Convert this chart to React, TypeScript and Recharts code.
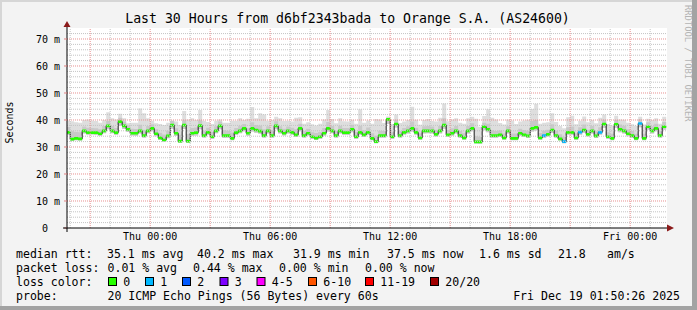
import { useMemo } from "react";
import {
  ComposedChart,
  Area,
  XAxis,
  YAxis,
  CartesianGrid,
  ReferenceLine,
  ReferenceDot,
} from "recharts";

const MONO = '"DejaVu Sans Mono", monospace';

// time axis in hours relative to Thu 00:00
const RANGE_START = -4.159; // Wed 19:50:26
const RANGE_END = 25.841; // Fri 01:50:26
const FIRST_STEP = -4.2; // first 12 min consolidation step (Wed 19:48)
const STEP = 0.2;
const Y_MAX = 74.07;

const timeTicks = [0, 6, 12, 18, 24];
const timeLabels = ["Thu 00:00", "Thu 06:00", "Thu 12:00", "Thu 18:00", "Fri 00:00"];
const valueTicks = [0, 10, 20, 30, 40, 50, 60, 70];

// median rtt per 12 min step (ms)
const median = [
  35.4, 32.9, 33.2, 33.0, 36.0, 35.3, 35.3, 35.3, 34.9, 36.0,
  37.8, 36.0, 35.3, 39.4, 37.8, 36.5, 35.1, 35.1, 36.0, 34.2,
  36.0, 36.9, 34.9, 33.4, 32.6, 34.1, 38.1, 35.1, 32.2, 38.1,
  32.2, 35.1, 35.3, 37.9, 34.2, 35.4, 33.8, 36.0, 37.8, 34.2,
  34.2, 33.2, 35.3, 36.0, 36.9, 35.1, 36.9, 36.3, 35.9, 34.2,
  36.0, 34.2, 37.8, 36.0, 35.1, 36.0, 35.4, 34.5, 36.9, 34.2,
  35.1, 33.8, 33.3, 33.8, 35.1, 36.9, 36.0, 34.2, 36.0, 35.3,
  35.3, 36.5, 33.8, 35.4, 34.5, 35.4, 33.2, 32.0, 34.2, 34.2,
  40.2, 33.8, 38.5, 34.2, 35.4, 36.0, 36.9, 35.4, 33.4, 36.0,
  36.0, 36.0, 34.7, 36.0, 38.1, 34.5, 35.1, 36.0, 34.2, 33.4,
  36.0, 36.9, 31.9, 31.9, 37.5, 36.5, 34.2, 34.2, 34.5, 33.4,
  36.0, 33.2, 33.2, 35.1, 34.5, 34.1, 36.9, 37.3, 33.4, 34.2,
  34.7, 36.3, 34.2, 33.0, 32.0, 35.4, 35.4, 33.4, 35.5, 36.3,
  34.7, 36.0, 34.1, 35.4, 38.5, 33.8, 33.2, 38.4, 36.5, 36.0,
  34.9, 34.2, 33.2, 38.7, 33.2, 37.5, 36.0, 36.9, 34.2, 37.5,
];

// smoke: lowest ping, upper dense ping, highest ping per step
const pingLow = [
  34.5, 32.3, 32.5, 32.4, 35.0, 34.5, 34.6, 34.4, 34.1, 35.1,
  36.6, 35.1, 34.4, 37.9, 36.7, 35.6, 34.3, 34.2, 35.0, 33.4,
  35.1, 35.8, 34.0, 32.6, 31.9, 33.2, 36.8, 34.1, 31.5, 36.7,
  31.5, 34.2, 34.3, 36.6, 33.4, 34.5, 33.0, 35.1, 36.6, 33.3,
  33.4, 32.5, 34.4, 35.1, 35.8, 34.2, 35.7, 35.3, 34.9, 33.4,
  35.0, 33.4, 36.6, 35.0, 34.3, 35.0, 34.5, 33.7, 35.8, 33.4,
  34.3, 33.0, 32.6, 33.0, 34.2, 35.7, 35.1, 33.4, 35.0, 34.4,
  34.4, 35.5, 33.0, 34.5, 33.7, 34.5, 32.5, 31.4, 33.4, 33.4,
  38.5, 33.0, 37.2, 33.4, 34.5, 35.0, 35.7, 34.5, 32.7, 35.0,
  35.1, 35.0, 33.9, 35.0, 36.8, 33.7, 34.2, 35.0, 33.4, 32.7,
  35.0, 35.8, 31.3, 31.2, 36.2, 35.5, 33.4, 33.4, 33.7, 32.7,
  35.0, 32.5, 32.5, 34.2, 33.7, 33.3, 35.7, 36.1, 32.7, 33.3,
  33.9, 35.2, 33.4, 32.4, 31.4, 34.5, 34.5, 32.7, 34.5, 35.3,
  33.9, 35.0, 33.3, 34.5, 37.1, 33.0, 32.5, 37.1, 35.5, 35.0,
  34.0, 33.4, 32.5, 37.3, 32.5, 36.4, 35.0, 35.8, 33.4, 36.4,
];

const pingMid = [
  37.4, 35.8, 35.6, 35.5, 37.6, 37.1, 37.0, 36.9, 36.6, 37.8,
  39.6, 37.8, 37.0, 40.8, 39.4, 38.0, 36.8, 36.7, 38.2, 36.4,
  37.8, 38.4, 36.6, 35.3, 34.6, 36.0, 39.7, 36.9, 34.5, 39.9,
  34.8, 37.0, 37.2, 39.9, 36.0, 37.1, 35.6, 37.7, 39.4, 36.2,
  36.0, 35.4, 37.0, 37.9, 38.5, 36.9, 39.2, 38.1, 38.0, 36.6,
  37.7, 36.2, 39.5, 37.7, 36.8, 37.6, 37.1, 36.6, 38.6, 35.9,
  36.8, 35.5, 35.2, 35.6, 37.0, 39.3, 37.8, 35.9, 37.9, 37.0,
  37.0, 38.2, 35.6, 37.9, 36.2, 37.2, 35.1, 34.2, 36.0, 35.9,
  40.8, 35.5, 40.1, 35.9, 37.0, 37.7, 39.4, 37.1, 35.1, 37.7,
  37.8, 37.6, 36.4, 37.8, 40.6, 36.3, 36.9, 37.8, 35.9, 35.1,
  37.8, 38.8, 34.0, 33.8, 39.0, 38.6, 36.2, 35.9, 36.1, 35.0,
  37.7, 35.0, 35.0, 36.8, 36.3, 36.0, 39.6, 40.0, 35.2, 36.0,
  36.4, 38.4, 36.0, 34.7, 33.8, 37.3, 37.6, 35.1, 37.3, 38.3,
  36.4, 37.8, 35.8, 37.3, 40.1, 35.5, 34.9, 40.0, 38.3, 37.9,
  36.6, 35.9, 34.9, 40.3, 34.9, 39.2, 37.7, 38.6, 35.9, 39.3,
];

const pingHigh = [
  39.8, 39.5, 39.2, 39.0, 40.0, 40.2, 39.8, 39.6, 39.0, 40.0,
  42.9, 40.6, 40.2, 42.3, 40.6, 38.8, 39.0, 39.0, 44.3, 42.5,
  40.6, 39.7, 38.8, 38.5, 38.1, 39.0, 39.7, 39.4, 38.1, 43.3,
  40.2, 40.6, 40.0, 43.7, 39.7, 39.3, 38.5, 39.7, 40.2, 39.0,
  39.0, 39.7, 39.7, 40.6, 40.0, 40.5, 44.8, 40.6, 42.5, 42.0,
  39.7, 40.0, 41.2, 40.6, 39.6, 39.7, 39.4, 40.8, 41.0, 38.6,
  39.2, 38.4, 38.0, 38.6, 40.2, 43.7, 40.4, 38.8, 40.6, 39.5,
  39.4, 40.1, 38.6, 44.0, 39.0, 39.8, 38.6, 40.4, 40.2, 38.9,
  41.3, 38.5, 42.0, 38.9, 39.4, 40.0, 44.9, 40.1, 38.2, 40.0,
  40.4, 39.6, 39.4, 40.8, 46.1, 39.5, 40.2, 40.6, 39.0, 38.6,
  40.6, 41.2, 40.5, 37.5, 41.5, 44.0, 40.8, 40.2, 38.9, 38.3,
  40.2, 39.8, 38.5, 39.4, 39.8, 40.1, 44.1, 46.0, 38.6, 39.0,
  39.2, 42.5, 39.3, 37.8, 36.9, 41.0, 41.6, 38.4, 39.7, 41.3,
  39.2, 40.0, 38.8, 40.8, 42.0, 38.5, 38.0, 41.6, 40.2, 40.1,
  39.0, 38.4, 37.9, 41.2, 38.3, 40.5, 40.0, 40.6, 38.6, 41.2,
];

// steps that lost 1 of 20 pings
const lossSteps = [119, 124, 128, 133, 143];

const lossLabels = ["0", "1", "2", "3", "4-5", "6-10", "11-19", "20/20"];
const lossColors = ["#26ff00", "#00b8ff", "#0059ff", "#7e00ff", "#ff00ff", "#ff5500", "#ff0000", "#a10000"];

const rttStats = ["35.1 ms avg", "40.2 ms max", "31.9 ms min", "37.5 ms now", "1.6 ms sd", "21.8", "am/s"];
const lossStats = ["0.01 % avg", "0.44 % max", "0.00 % min", "0.00 % now"];
const probeText = "20 ICMP Echo Pings (56 Bytes) every 60s";
const stampText = "Fri Dec 19 01:50:26 2025";

// legend layout (px)
const rttX = [107, 197, 293, 387, 479, 558, 607];
const lossX = [107.5, 193, 279, 365];
const boxX = [108, 145, 182, 219.5, 256.5, 308, 365, 430];

const majorHours = Array.from({ length: 10 }, (_, i) => -3 + i * 3);
const minorHours = Array.from({ length: 30 }, (_, i) => -4 + i).filter((h) => h % 3 !== 0);
const minorValues = Array.from({ length: 36 }, (_, i) => 2 + i * 2).filter((v) => v % 10 !== 0);

const BAND = 0.5; // half thickness of loss colour bar (m)

function YTick(props: any) {
  const { x, y, payload } = props;
  const v = payload.value;
  return (
    <text x={v === 0 ? x - 12 : x} y={y} dy="0.36em" textAnchor="end" fontSize={10} fontFamily={MONO} fill="#000">
      {v === 0 ? "0" : `${v} m`}
    </text>
  );
}

const arrowRight = (p: any) => (
  <g>
    <line x1={p.cx} y1={p.cy} x2={p.cx + 2} y2={p.cy} stroke="#000" />
    <polygon points={`${p.cx + 7},${p.cy} ${p.cx},${p.cy - 3.5} ${p.cx},${p.cy + 3.5}`} fill="#8b1a1a" />
  </g>
);

const arrowUp = (p: any) => (
  <g>
    <line x1={p.cx} y1={p.cy} x2={p.cx} y2={p.cy - 1} stroke="#000" />
    <polygon points={`${p.cx},${p.cy - 7} ${p.cx - 3.5},${p.cy - 1} ${p.cx + 3.5},${p.cy - 1}`} fill="#8b1a1a" />
  </g>
);

const axisCorner = (p: any) => (
  <g>
    <line x1={p.cx - 4} y1={p.cy} x2={p.cx} y2={p.cy} stroke="#000" />
    <line x1={p.cx} y1={p.cy} x2={p.cx} y2={p.cy + 4} stroke="#000" />
  </g>
);

export default function App() {
  const rows = useMemo(() => {
    const out: any[] = [];
    median.forEach((m, k) => {
      const t0 = FIRST_STEP + k * STEP;
      const lost = lossSteps.includes(k);
      for (const t of [t0, t0 + STEP]) {
        out.push({
          t,
          median: m,
          smokeLight: [pingLow[k], pingHigh[k]],
          smokeDark: [pingLow[k], pingMid[k]],
          loss0: lost ? null : [m - BAND, m + BAND],
          loss1: lost ? [m - BAND, m + BAND] : null,
        });
      }
    });
    return out;
  }, []);

  return (
    <div
      style={{
        position: "absolute",
        left: 0,
        top: 0,
        width: 697,
        height: 310,
        background: "#f3f3f3",
        overflow: "hidden",
      }}
    >
      <ComposedChart width={697} height={310} data={rows} margin={{ top: 28, right: 30, bottom: 52, left: 7 }}>
        <CartesianGrid fill="#ffffff" horizontal={false} vertical={false} />
        <XAxis
          type="number"
          dataKey="t"
          domain={[RANGE_START, RANGE_END]}
          allowDataOverflow
          ticks={timeTicks}
          interval={0}
          tickFormatter={(v) => timeLabels[timeTicks.indexOf(v)]}
          tickLine={false}
          tickSize={5}
          tickMargin={0}
          axisLine={{ stroke: "#000" }}
          tick={{ fontSize: 10, fill: "#000", fontFamily: MONO }}
          height={30}
        />
        <YAxis
          type="number"
          domain={[0, Y_MAX]}
          allowDataOverflow
          ticks={valueTicks}
          interval={0}
          tick={<YTick />}
          width={60}
          tickSize={3}
          tickMargin={4}
          tickLine={{ stroke: "#e08080" }}
          axisLine={{ stroke: "#000" }}
        />
        <Area
          type="linear"
          dataKey="smokeLight"
          stroke="none"
          fill="#dedede"
          fillOpacity={1}
          isAnimationActive={false}
          dot={false}
          activeDot={false}
        />
        <Area
          type="linear"
          dataKey="smokeDark"
          stroke="none"
          fill="#c9c9c9"
          fillOpacity={1}
          isAnimationActive={false}
          dot={false}
          activeDot={false}
        />
        {minorValues.map((v) => (
          <ReferenceLine key={`mv${v}`} y={v} stroke="#c4c4c4" strokeDasharray="1 1" />
        ))}
        {minorHours.map((h) => (
          <ReferenceLine key={`mh${h}`} x={h} stroke="#c4c4c4" strokeDasharray="1 1" />
        ))}
        {valueTicks.filter((v) => v > 0).map((v) => (
          <ReferenceLine key={`Mv${v}`} y={v} stroke="#e89090" strokeDasharray="1 1" />
        ))}
        {majorHours.map((h) => (
          <ReferenceLine key={`Mh${h}`} x={h} stroke="#e89090" strokeDasharray="1 1" />
        ))}
        {/* median drawn as an unfilled area so the loss bars stack above it */}
        <Area
          type="linear"
          dataKey="median"
          stroke="#1a1a1a"
          strokeWidth={1}
          fill="none"
          isAnimationActive={false}
          dot={false}
          activeDot={false}
        />
        <Area
          type="linear"
          dataKey="loss0"
          stroke="none"
          fill={lossColors[0]}
          fillOpacity={1}
          isAnimationActive={false}
          dot={false}
          activeDot={false}
        />
        <Area
          type="linear"
          dataKey="loss1"
          stroke="none"
          fill={lossColors[1]}
          fillOpacity={1}
          isAnimationActive={false}
          dot={false}
          activeDot={false}
        />
        <ReferenceDot x={RANGE_START} y={0} r={0} ifOverflow="visible" shape={axisCorner} />
        <ReferenceDot x={RANGE_END} y={0} r={0} ifOverflow="visible" shape={arrowRight} />
        <ReferenceDot x={RANGE_START} y={Y_MAX} r={0} ifOverflow="visible" shape={arrowUp} />
      </ComposedChart>

      <svg
        width={697}
        height={310}
        style={{ position: "absolute", left: 0, top: 0, pointerEvents: "none" }}
        fontFamily={MONO}
      >
        <text x={347.5} y={23} textAnchor="middle" fontSize={13.2} fill="#000">
          Last 30 Hours from d6bf2343bada to Orange S.A. (AS24600)
        </text>
        <text transform="translate(13,122.5) rotate(-90)" textAnchor="middle" fontSize={10} fill="#000">
          Seconds
        </text>
        <text transform="translate(684.5,5) rotate(90)" fontSize={8.8} fill="#b4b4b4">
          RRDTOOL / TOBI OETIKER
        </text>

        <g fontSize={11.55} fill="#000">
          <text x={16} y={258}>median rtt:</text>
          {rttStats.map((s, i) => (
            <text key={s} x={rttX[i]} y={258}>{s}</text>
          ))}
          <text x={16} y={272}>packet loss:</text>
          {lossStats.map((s, i) => (
            <text key={s} x={lossX[i]} y={272}>{s}</text>
          ))}
          <text x={16} y={286}>loss color:</text>
          {lossLabels.map((l, i) => (
            <g key={l}>
              <rect x={boxX[i] + 0.5} y={277.5} width={8} height={8} fill={lossColors[i]} stroke="#000" strokeWidth={1} />
              <text x={boxX[i] + 15.3} y={286}>{l}</text>
            </g>
          ))}
          <text x={16} y={300}>probe:</text>
          <text x={107.5} y={300}>{probeText}</text>
          <text x={680} y={300} textAnchor="end">{stampText}</text>
        </g>
      </svg>

      <div style={{ position: "absolute", left: 0, top: 0, width: 697, height: 2, background: "#d6d6d6" }} />
      <div style={{ position: "absolute", left: 0, top: 0, width: 2, height: 310, background: "#d6d6d6" }} />
      <div style={{ position: "absolute", left: 692, top: 0, width: 5, height: 310, background: "#a3a3a3" }} />
      <div style={{ position: "absolute", left: 0, top: 306, width: 697, height: 4, background: "#a3a3a3" }} />
    </div>
  );
}
